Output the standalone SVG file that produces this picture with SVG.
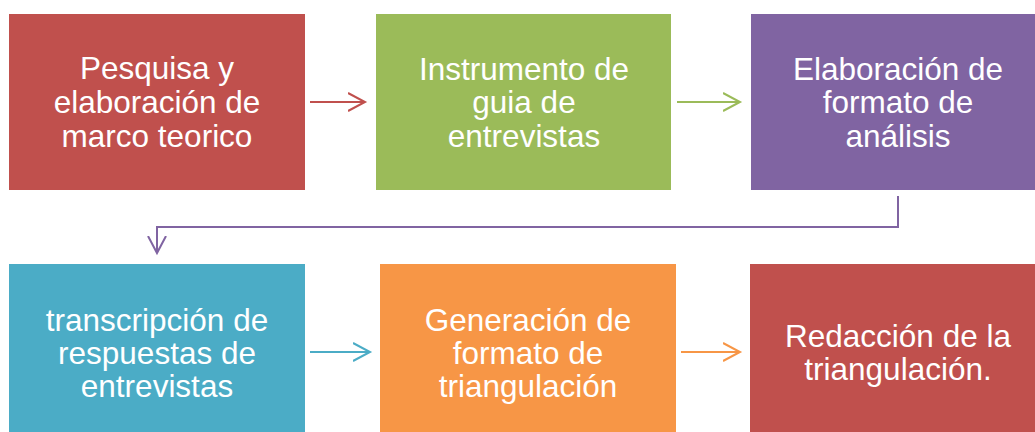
<svg xmlns="http://www.w3.org/2000/svg" width="1035" height="432" viewBox="0 0 1035 432">
<style>
.t{font-family:"Liberation Sans",Arial,sans-serif;font-size:31.5px;fill:#fff;text-anchor:middle}
.c{fill:none;stroke-width:2}
</style>
<defs>
<marker id="ar" viewBox="0 0 20 20" markerWidth="20" markerHeight="20" refX="17" refY="10" markerUnits="userSpaceOnUse" orient="auto">
<path d="M0,1 L17,10 L0,19" fill="none" stroke="context-stroke" stroke-width="2"/>
</marker>
</defs>
<rect width="1035" height="432" fill="#fff"/>
<g id="n1"><rect x="9" y="14" width="296" height="176" fill="#C0504D"/>
<text class="t" x="157" y="79">Pesquisa y</text><text class="t" x="157" y="113">elaboración de</text><text class="t" x="157" y="147">marco teorico</text></g>
<g id="n2"><rect x="376" y="14" width="295" height="176" fill="#9BBB59"/>
<text class="t" x="524" y="80">Instrumento de</text><text class="t" x="524" y="113">guia de</text><text class="t" x="524" y="147">entrevistas</text></g>
<g id="n3"><rect x="751" y="14" width="295" height="176" fill="#8064A2"/>
<text class="t" x="898" y="80">Elaboración de</text><text class="t" x="898" y="113">formato de</text><text class="t" x="898" y="147">análisis</text></g>
<g id="n4"><rect x="9" y="264" width="296" height="176" fill="#4BACC6"/>
<text class="t" x="157" y="331">transcripción de</text><text class="t" x="157" y="364">respuestas de</text><text class="t" x="157" y="397">entrevistas</text></g>
<g id="n5"><rect x="380" y="264" width="296" height="176" fill="#F79646"/>
<text class="t" x="528" y="331">Generación de</text><text class="t" x="528" y="364">formato de</text><text class="t" x="528" y="397">triangulación</text></g>
<g id="n6"><rect x="750" y="264" width="296" height="176" fill="#C0504D"/>
<text class="t" x="898" y="347">Redacción de la</text><text class="t" x="898" y="380">triangulación.</text></g>
<g id="connectors">
<path class="c" d="M310,102 H365" stroke="#C0504D" marker-end="url(#ar)"/>
<path class="c" d="M677,102 H740" stroke="#9BBB59" marker-end="url(#ar)"/>
<path class="c" d="M898,196 V227 H157 V253" stroke="#8064A2" marker-end="url(#ar)"/>
<path class="c" d="M310,352 H370" stroke="#4BACC6" marker-end="url(#ar)"/>
<path class="c" d="M681,352 H740" stroke="#F79646" marker-end="url(#ar)"/>
</g>
</svg>
